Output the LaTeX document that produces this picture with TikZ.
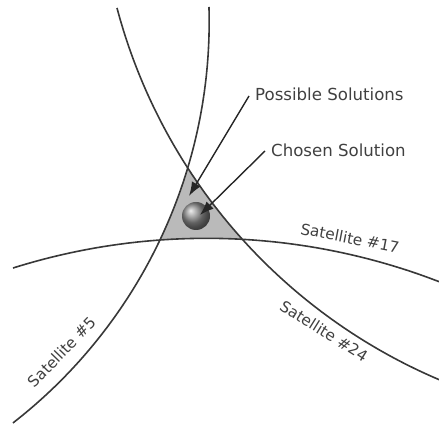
\documentclass[tikz,border=0pt]{standalone}
\usepackage{fontspec}
\setmainfont{DejaVu Sans}
\usetikzlibrary{arrows.meta}
\begin{document}
\begin{tikzpicture}[x=1pt,y=-1pt,
  curve/.style={line width=1.6pt, draw=black!78},
  lbl/.style={text=black!75, font=\fontsize{15.3}{15.3}\selectfont, inner sep=0pt},
  callout/.style={text=black!75, font=\fontsize{16.6}{16.6}\selectfont, inner ysep=0pt, anchor=west},
  pointer/.style={line width=1.4pt, draw=black!85, -{Latex[length=14pt,width=10pt]}}]
\useasboundingbox (0,0) rectangle (439,427);
% shaded solution area
\fill[black!27]
  plot[domain=16.89:25.42, samples=20] ({-299+508.2*cos(\x)},{21.8+508.2*sin(\x)})
  -- plot[domain=-94.13:-86.76, samples=20] ({206.5+645.7*cos(\x)},{884+645.7*sin(\x)})
  -- plot[domain=137.86:146.92, samples=20] ({658.4+560.2*cos(\x)},{-135.8+560.2*sin(\x)})
  -- cycle;
% satellite range circles
\draw[curve] plot[domain=-1.67:52.13, samples=90] ({-299+508.2*cos(\x)},{21.8+508.2*sin(\x)});
\draw[curve] plot[domain=112.95:165.13, samples=90] ({658.4+560.2*cos(\x)},{-135.8+560.2*sin(\x)});
\draw[curve] plot[domain=-107.44:-68.80, samples=90] ({206.5+645.7*cos(\x)},{884+645.7*sin(\x)});
% labels on the circles
\node[lbl, rotate=-11] (s17) at (350,238) {Satellite \#17};
\node[lbl, rotate=-32] (s24) at (324,331) {Satellite \#24};
\node[lbl, rotate=46] (s5) at (62,352) {Satellite \#5};
% chosen solution sphere
\node[circle, minimum size=28pt, inner sep=0pt, ball color=black!45] (sph) at (196,216) {};
% callouts
\node[callout, inner xsep=6pt] (ps) at (249,94) {Possible Solutions};
\node[callout, inner xsep=6pt] (cs) at (265,150) {Chosen Solution};
\coordinate (t1) at (189,196);
\coordinate (t2) at (200,215);
\draw[pointer] ([yshift=-2pt]ps.west) -- (t1);
\draw[pointer] ([yshift=-1pt]cs.west) -- (t2);
\end{tikzpicture}
\end{document}
